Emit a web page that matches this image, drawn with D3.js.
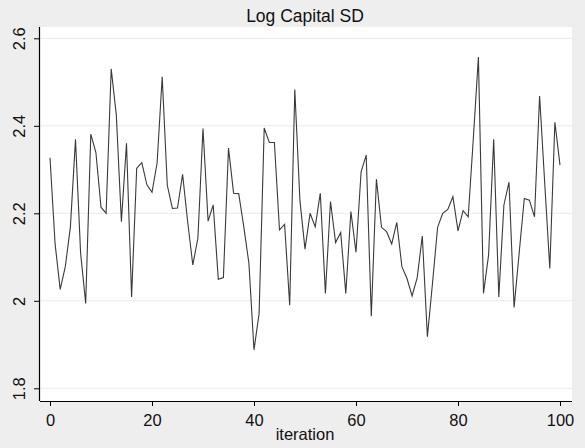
<!DOCTYPE html>
<html><head><meta charset="utf-8">
<script src="https://cdn.jsdelivr.net/npm/d3@7"></script>
<style>body{margin:0;background:#eeeeee;}svg{display:block;font-family:"Liberation Sans",Arial,sans-serif;}</style>
</head><body><svg id="c" width="585" height="448"></svg>
<script>
const title = "Log Capital SD";
const xLabel = "iteration";
const xTicks = [0, 20, 40, 60, 80, 100];
const yTicks = [1.8, 2, 2.2, 2.4, 2.6];
const yTickLabels = ["1.8", "2", "2.2", "2.4", "2.6"];
const logCapitalSD = [
 2.327, 2.13, 2.026, 2.078, 2.169, 2.369, 2.109, 1.994, 2.381, 2.339,
 2.214, 2.2, 2.53, 2.425, 2.181, 2.36, 2.009, 2.303, 2.316, 2.265,
 2.248, 2.315, 2.512, 2.264, 2.211, 2.212, 2.289, 2.18, 2.082, 2.143,
 2.394, 2.182, 2.219, 2.049, 2.053, 2.349, 2.246, 2.245, 2.169, 2.086,
 1.888, 1.971, 2.395, 2.362, 2.362, 2.162, 2.175, 1.99, 2.483, 2.23,
 2.118, 2.2, 2.169, 2.246, 2.017, 2.227, 2.133, 2.156, 2.017, 2.204,
 2.111, 2.295, 2.333, 1.965, 2.278, 2.168, 2.158, 2.13, 2.179, 2.078,
 2.051, 2.011, 2.053, 2.148, 1.918, 2.04, 2.168, 2.2, 2.209, 2.238,
 2.16, 2.206, 2.192, 2.37, 2.557, 2.017, 2.105, 2.369, 2.009, 2.219,
 2.271, 1.985, 2.11, 2.234, 2.23, 2.192, 2.468, 2.27, 2.074, 2.408,
 2.31
];
const iterations = logCapitalSD.map((d, i) => i);

const svg = d3.select("#c");
const plot = {left: 40, right: 572, top: 27, bottom: 401};
const x = d3.scaleLinear().domain([0, 100]).range([50, 560]);
const y = d3.scaleLinear().domain([1.8, 2.6]).range([388.3, 38.3]);
const FONT = "Liberation Sans, Arial, sans-serif";

svg.append("rect").attr("x", 0).attr("y", 0).attr("width", 585).attr("height", 448).attr("fill", "#eeeeee");
svg.append("rect").attr("x", plot.left).attr("y", plot.top)
  .attr("width", plot.right - plot.left).attr("height", plot.bottom - plot.top).attr("fill", "#ffffff");

// gridlines
svg.append("g").selectAll("line").data(yTicks).join("line")
  .attr("x1", plot.left).attr("x2", plot.right)
  .attr("y1", d => y(d)).attr("y2", d => y(d))
  .attr("stroke", "#eaeaea").attr("stroke-width", 1);

// line
const line = d3.line().x((d, i) => x(iterations[i])).y(d => y(d));
svg.append("path").datum(logCapitalSD).attr("d", line)
  .attr("fill", "none").attr("stroke", "#3a3a3a").attr("stroke-width", 1.1)
  .attr("stroke-linejoin", "miter");

// x axis
const xAxis = svg.append("g").attr("transform", `translate(0,${plot.bottom})`)
  .call(d3.axisBottom(x).tickValues(xTicks).tickSize(5).tickPadding(7).tickFormat(d3.format("d")));
xAxis.select(".domain").attr("d", `M${plot.left},0.5H${plot.right}`).attr("stroke", "#000").attr("stroke-width", 1.2);
xAxis.selectAll(".tick line").attr("stroke", "#000");
xAxis.selectAll(".tick text").attr("font-size", 16.5).attr("fill", "#111").attr("font-family", FONT)
  .attr("dy", null).attr("y", 24.5);

// y axis
const yAxis = svg.append("g").attr("transform", `translate(${plot.left},0)`)
  .call(d3.axisLeft(y).tickValues(yTicks).tickSize(6).tickPadding(0).tickFormat((d, i) => yTickLabels[i]));
yAxis.select(".domain").attr("d", `M-0.5,${plot.top}V${plot.bottom}`).attr("stroke", "#000").attr("stroke-width", 1.2);
yAxis.selectAll(".tick line").attr("stroke", "#000");
yAxis.selectAll(".tick text")
  .attr("font-size", 16.5).attr("fill", "#111").attr("font-family", FONT)
  .attr("x", 0).attr("dy", null).attr("text-anchor", "middle")
  .attr("transform", "translate(-20,0) rotate(-90)")
  .attr("y", 5);

// title
svg.append("text").attr("x", 305).attr("y", 22).attr("text-anchor", "middle")
  .attr("font-size", 17.5).attr("fill", "#111").attr("font-family", FONT).text(title);
// x label
svg.append("text").attr("x", 305).attr("y", 439.5).attr("text-anchor", "middle")
  .attr("font-size", 16.5).attr("fill", "#111").attr("font-family", FONT).text(xLabel);
</script></body></html>
